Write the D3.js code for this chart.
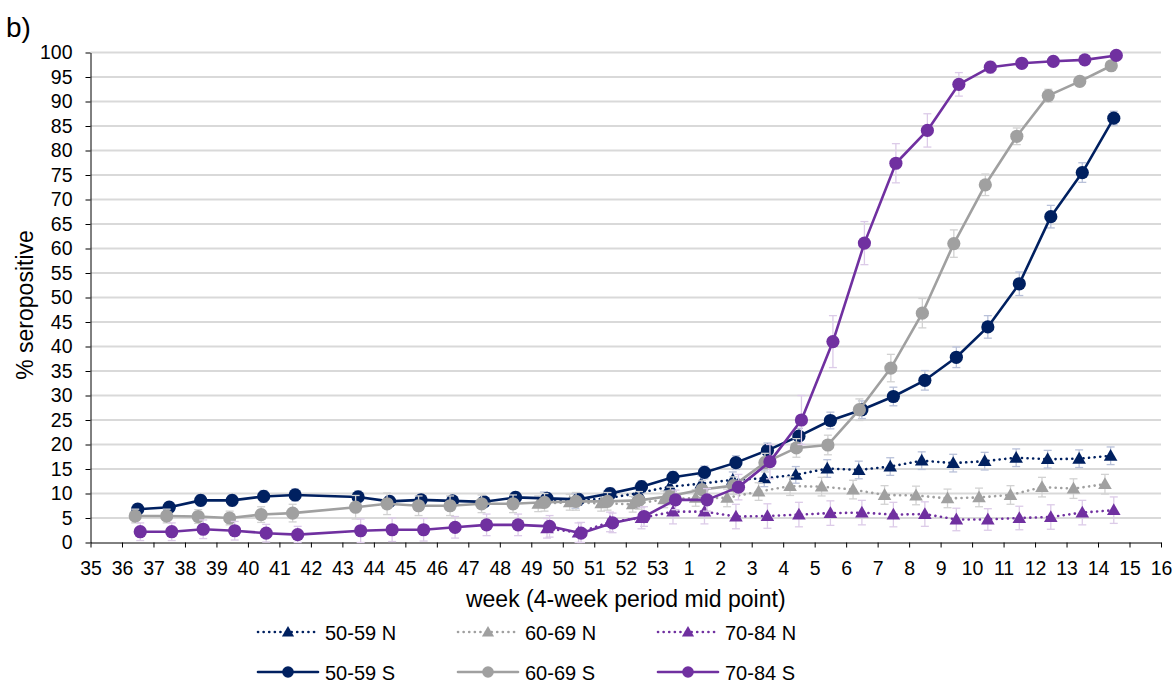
<!DOCTYPE html>
<html lang="en">
<head>
<meta charset="UTF-8">
<title>Seropositive by week</title>
<script src="https://cdn.jsdelivr.net/npm/d3@7"></script>
<style>
  body { margin: 0; background: #fff; }
  svg { display: block; font-family: "Liberation Sans", Arial, sans-serif; }
</style>
</head>
<body>
<div class="container"></div>
<script>
// axis categories (week numbers, in order)
const weekLabels = [35,36,37,38,39,40,41,42,43,44,45,46,47,48,49,50,51,52,53,1,2,3,4,5,6,7,8,9,10,11,12,13,14,15,16];
const yTicks = d3.range(0, 101, 5);

// mid points of the 4-week periods
const weeksS = [36.5,37.5,38.5,39.5,40.5,41.5,43.5,44.5,45.5,46.5,47.5,48.5,49.5,50.5,51.5,52.5,53.5,
                1.5,2.5,3.5,4.5,5.5,6.5,7.5,8.5,9.5,10.5,11.5,12.5,13.5,14.5];
const weeksN = [49.5,50.5,51.5,52.5,53.5,1.5,2.5,3.5,4.5,5.5,6.5,7.5,8.5,9.5,10.5,11.5,12.5,13.5,14.5];

// spike (S) antibody
const s5059 = [6.8,7.2,8.6,8.6,9.4,9.7,9.3,8.4,8.7,8.5,8.3,9.2,9.0,8.8,10.0,11.4,13.3,
               14.3,16.3,18.8,21.7,24.9,27.1,29.8,33.1,37.8,44.0,52.8,66.5,75.5,86.6];
const s6069 = [5.4,5.4,5.3,5.0,5.7,6.0,7.2,7.9,7.5,7.5,7.9,7.9,8.2,8.4,8.4,8.6,9.5,
               10.8,11.6,16.3,19.3,19.9,27.1,35.6,46.8,61.0,73.0,82.9,91.2,94.1,97.3];
const s7084 = [2.2,2.2,2.7,2.4,1.9,1.6,2.4,2.6,2.6,3.1,3.6,3.6,3.3,1.9,4.0,5.3,8.7,
               8.7,11.3,16.5,25.0,41.0,61.1,77.4,84.1,93.5,97.0,97.8,98.2,98.5,99.4];
const e5059S = [1.0,1.0,1.1,1.1,1.2,1.2,1.2,1.0,1.0,1.0,1.0,1.1,1.1,1.1,1.1,1.2,1.2,
                1.3,1.4,1.5,1.6,1.7,1.8,1.9,2.0,2.1,2.3,2.4,2.3,2.0,1.4];
const e6069S = [1.4,1.4,1.4,1.4,1.6,1.8,2.4,2.2,2.0,2.0,1.8,1.8,1.8,1.8,1.8,1.8,1.8,
                1.8,1.8,1.9,1.9,2.0,2.2,2.8,3.0,2.8,2.2,1.7,1.3,1.0,0.8];
const e7084S = [1.8,1.8,1.9,1.9,1.8,1.7,2.4,2.4,2.3,2.2,2.2,2.2,2.2,2.2,2.0,2.0,2.0,
                2.3,2.6,3.5,5.0,5.3,4.4,4.0,3.4,2.4,1.2,1.0,0.8,0.7,0.6];

// nucleocapsid (N) antibody
const n5059 = [8.8,8.5,9.0,10.1,11.4,12.0,12.8,13.1,13.8,15.1,14.8,15.5,16.7,16.2,16.6,17.3,17.0,17.1,17.7];
const n6069 = [7.9,8.2,8.0,7.8,8.8,9.1,9.1,10.4,11.5,11.4,10.8,9.7,9.6,9.0,9.2,9.7,11.3,11.0,11.9];
const n7084 = [2.9,2.0,4.2,5.0,6.3,6.3,5.3,5.4,5.7,6.0,6.1,5.7,5.8,4.7,4.7,5.0,5.2,6.1,6.6];
const e5059N = [1.5,1.5,1.5,1.5,1.6,1.6,1.6,1.7,1.7,1.8,1.8,1.8,1.8,1.8,1.8,1.8,1.8,1.8,1.8];
const e6069N = [1.6,1.6,1.6,1.6,1.7,1.7,1.8,1.8,1.9,1.9,1.9,1.9,1.9,1.9,1.9,1.9,2.0,2.0,2.0];
const e7084N = [2.0,2.0,2.0,2.2,2.5,2.5,2.5,2.5,2.5,2.5,2.5,2.5,2.5,2.3,2.2,2.4,2.5,2.5,2.7];

const seriesNames = ["50-59 N","60-69 N","70-84 N","50-59 S","60-69 S","70-84 S"];
const colors = ["#002060","#a0a0a0","#7030a0","#002060","#a0a0a0","#7030a0"];
const errColors = ["#b9c1d9","#d2d2d2","#dccbe8","#b9c1d9","#d2d2d2","#dccbe8"];
const xShift = [-0.1,-0.28,0,0,-0.08,0.08];

const series = [
  {weeks: weeksN, values: n5059, err: e5059N},
  {weeks: weeksN, values: n6069, err: e6069N},
  {weeks: weeksN, values: n7084, err: e7084N},
  {weeks: weeksS, values: s5059, err: e5059S},
  {weeks: weeksS, values: s6069, err: e6069S},
  {weeks: weeksS, values: s7084, err: e7084S}
].map((s, i) => ({
  ...s, name: seriesNames[i], color: colors[i], errColor: errColors[i],
  dotted: i < 3, shift: xShift[i]
}));

const width = 1174, height = 684;
const marginLeft = 90.5, marginRight = 13, marginTop = 52.5, plotBottom = 542.5;
const fontFamily = "Liberation Sans, Arial, sans-serif";

// week number -> position along the axis (53 is followed by 1)
const weekIndex = w => (w >= 35 ? w - 35 : w + 18);

const x = d3.scaleLinear()
  .domain([0, weekLabels.length - 1])
  .range([marginLeft, width - marginRight]);
const y = d3.scaleLinear()
  .domain([0, 100])
  .range([plotBottom, marginTop]);

const svg = d3.create("svg")
  .attr("width", width)
  .attr("height", height)
  .attr("viewBox", [0, 0, width, height]);

// gridlines
svg.append("g")
  .selectAll("line")
  .data(yTicks.filter(d => d > 0))
  .join("line")
    .attr("x1", marginLeft)
    .attr("x2", width - marginRight)
    .attr("y1", d => y(d))
    .attr("y2", d => y(d))
    .attr("stroke", "#d9d9d9")
    .attr("stroke-width", 2);

// y axis
svg.append("g")
  .attr("transform", `translate(${marginLeft},0)`)
  .call(d3.axisLeft(y).tickValues(yTicks).tickSize(5).tickPadding(13).tickSizeOuter(0))
  .call(g => g.selectAll("text").attr("font-size", 19.5).attr("fill", "#000").attr("font-family", fontFamily))
  .call(g => g.selectAll("line, path").attr("stroke", "#000"));

// x axis
svg.append("g")
  .attr("transform", `translate(0,${plotBottom})`)
  .call(d3.axisBottom(x).tickValues(d3.range(weekLabels.length)).tickFormat(i => weekLabels[i]).tickSize(5).tickPadding(14).tickSizeOuter(0))
  .call(g => g.selectAll("text").attr("font-size", 19.5).attr("fill", "#000").attr("font-family", fontFamily))
  .call(g => g.selectAll("line, path").attr("stroke", "#000"));

const triangle = d3.symbol().type(d3.symbolTriangle).size(80);
const smallTriangle = d3.symbol().type(d3.symbolTriangle).size(64);

series.forEach(s => {
  const pts = s.weeks.map((w, i) => ({
    px: x(weekIndex(w) + s.shift), v: s.values[i], e: s.err[i]
  }));
  const g = svg.append("g");

  // error bars
  const eb = g.append("g").attr("stroke", s.errColor).attr("stroke-width", 1.3);
  eb.selectAll("line.v").data(pts).join("line")
    .attr("x1", d => d.px).attr("x2", d => d.px)
    .attr("y1", d => y(Math.min(100, d.v + d.e))).attr("y2", d => y(Math.max(0, d.v - d.e)));
  eb.selectAll("line.t").data(pts).join("line")
    .attr("x1", d => d.px - 4).attr("x2", d => d.px + 4)
    .attr("y1", d => y(Math.min(100, d.v + d.e))).attr("y2", d => y(Math.min(100, d.v + d.e)));
  eb.selectAll("line.b").data(pts).join("line")
    .attr("x1", d => d.px - 4).attr("x2", d => d.px + 4)
    .attr("y1", d => y(Math.max(0, d.v - d.e))).attr("y2", d => y(Math.max(0, d.v - d.e)));

  // line
  g.append("path")
    .datum(pts)
    .attr("fill", "none")
    .attr("stroke", s.color)
    .attr("stroke-width", 2.6)
    .attr("stroke-linecap", "round")
    .attr("stroke-linejoin", "round")
    .attr("stroke-dasharray", s.dotted ? "0.1 5.5" : null)
    .attr("d", d3.line().x(d => d.px).y(d => y(d.v)));

  // markers
  if (s.dotted) {
    g.selectAll("path.m").data(pts).join("path")
      .attr("class", "m")
      .attr("d", triangle)
      .attr("transform", d => `translate(${d.px},${y(d.v) + 1})`)
      .attr("fill", s.color);
  } else {
    g.selectAll("circle").data(pts).join("circle")
      .attr("cx", d => d.px).attr("cy", d => y(d.v)).attr("r", 6.6)
      .attr("fill", s.color);
  }
});

// titles
svg.append("text")
  .attr("x", 6).attr("y", 37)
  .attr("font-size", 28)
  .text("b)");

svg.append("text")
  .attr("transform", `translate(33,305) rotate(-90)`)
  .attr("text-anchor", "middle")
  .attr("font-size", 23)
  .text("% seropositive");

svg.append("text")
  .attr("x", (marginLeft + width - marginRight) / 2)
  .attr("y", 607)
  .attr("text-anchor", "middle")
  .attr("font-size", 23)
  .text("week (4-week period mid point)");

// legend: 3 columns, N row then S row
const legend = svg.append("g");
series.forEach((s, i) => {
  const lx = 258 + (i % 3) * 200;
  const ly = i < 3 ? 632 : 672;
  const item = legend.append("g").attr("transform", `translate(${lx},${ly})`);
  item.append("line")
    .attr("x1", 0).attr("x2", 60)
    .attr("stroke", s.color)
    .attr("stroke-width", 2.6)
    .attr("stroke-linecap", "round")
    .attr("stroke-dasharray", s.dotted ? "0.1 5.5" : null);
  if (s.dotted) {
    item.append("path").attr("d", smallTriangle).attr("transform", "translate(30,1)").attr("fill", s.color);
  } else {
    item.append("circle").attr("cx", 30).attr("r", 5.8).attr("fill", s.color);
  }
  item.append("text")
    .attr("x", 67).attr("y", 7.5)
    .attr("font-size", 20)
    .text(s.name);
});

document.querySelector(".container").appendChild(svg.node());
</script>
</body>
</html>
